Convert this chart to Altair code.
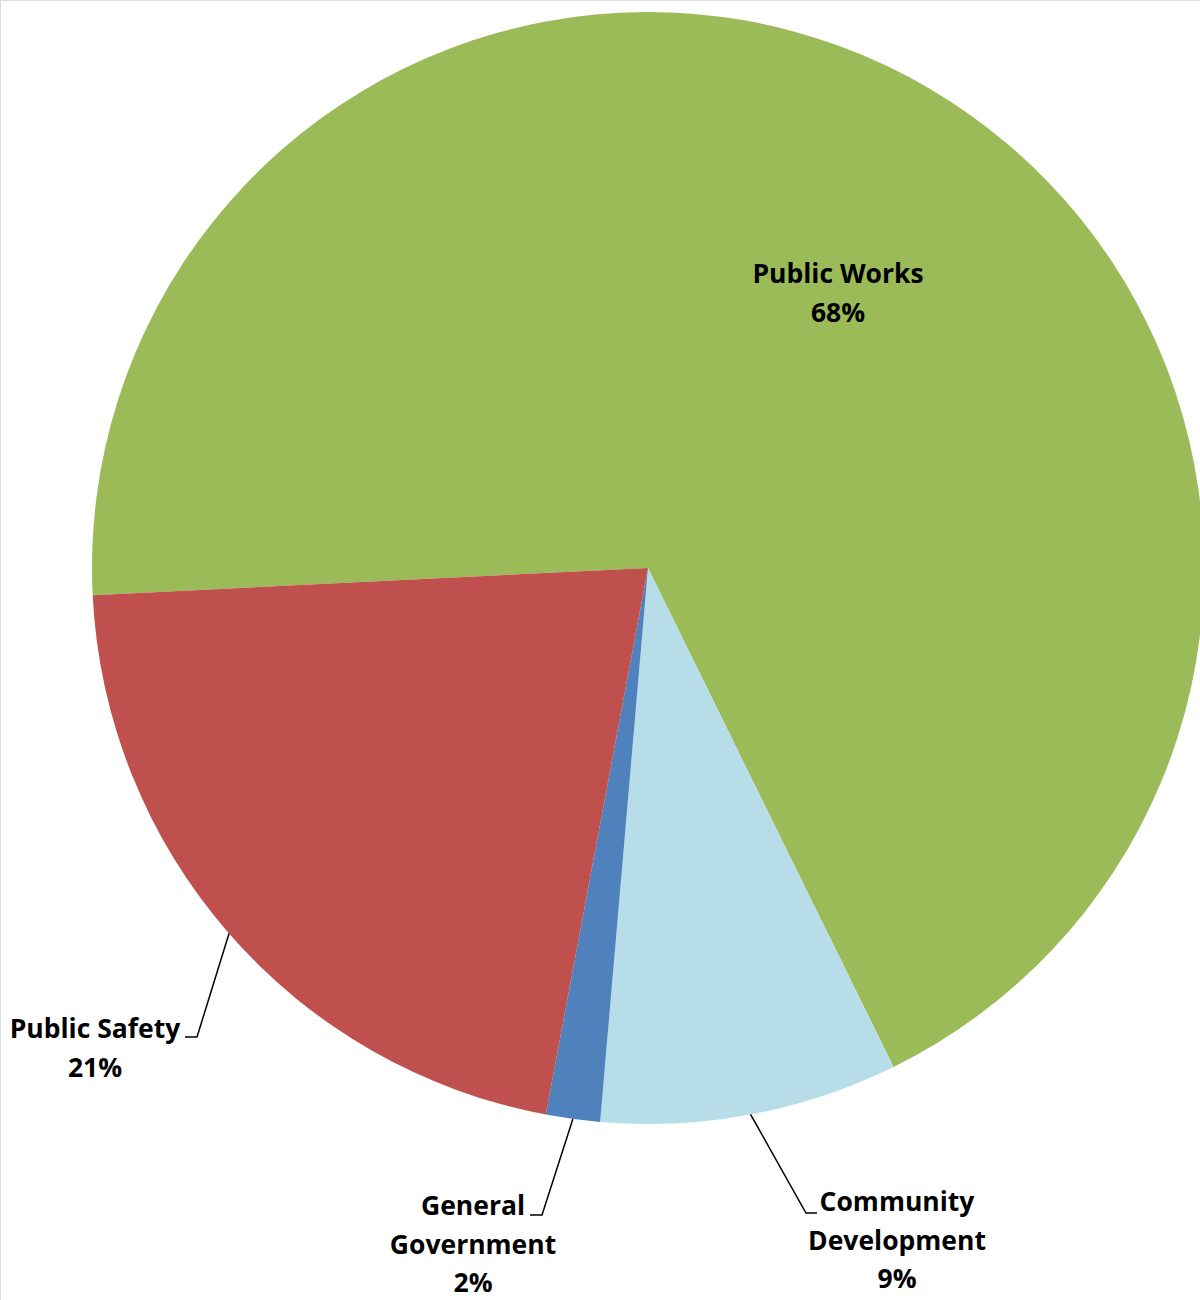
import math
import altair as alt
import pandas as pd

# ---- data ----
categories = ["Public Works", "Community Development", "General Government", "Public Safety"]
shares = [68.5, 8.65, 1.57, 21.28]
colors = ["#9BBB59", "#B7DEE8", "#4F81BD", "#C0504D"]
label_lines = [["Public Works"], ["Community", "Development"], ["General", "Government"], ["Public Safety"]]

# ---- layout (pixels) ----
CX, CY, R = 648, 568, 556
START = math.radians(267.2)
FONT = "Open Sans"
FS = 26.5
LINE_H = 38.5
# text anchor: (center x, first line y); leader: (elbow x, elbow y, stub end x)
text_pos = {
    "Public Works": (838, 275),
    "Community Development": (897, 1203),
    "General Government": (473, 1207),
    "Public Safety": (95, 1030),
}
leader = {
    "Community Development": (806, 1213, 817),
    "General Government": (542, 1215, 530),
    "Public Safety": (197, 1037, 185),
}

total = sum(shares)
pie = pd.DataFrame({"cat": categories, "value": shares, "idx": range(len(categories))})

# text rows
rows = []
for cat, v, lines in zip(categories, shares, label_lines):
    tx, ty = text_pos[cat]
    all_lines = lines + [f"{round(v / total * 100)}%"]
    for i, t in enumerate(all_lines):
        rows.append({"cat": cat, "t": t, "x": tx, "y": ty + i * LINE_H})
text_df = pd.DataFrame(rows)

# leader lines: start at slice mid-angle on the rim
pts = []
cum = 0.0
for cat, v in zip(categories, shares):
    mid = START + 2 * math.pi * (cum + v / 2) / total
    cum += v
    if cat in leader:
        ex, ey, sx = leader[cat]
        sx0 = CX + R * math.sin(mid)
        sy0 = CY - R * math.cos(mid)
        for k, (px, py) in enumerate([(sx0, sy0), (ex, ey), (sx, ey)]):
            pts.append({"cat": cat, "k": k, "x": px, "y": py})
lead_df = pd.DataFrame(pts)

arcs = alt.Chart(pie).mark_arc(outerRadius=R).encode(
    theta=alt.Theta("value:Q", stack=True, scale=alt.Scale(range=[START, START + 2 * math.pi])),
    order=alt.Order("idx:Q"),
    color=alt.Color("cat:N", scale=alt.Scale(domain=categories, range=colors), legend=None),
    x=alt.value(CX),
    y=alt.value(CY),
)

lines = alt.Chart(lead_df).mark_line(color="black", strokeWidth=1.5).encode(
    x=alt.X("x:Q", scale=None, axis=None),
    y=alt.Y("y:Q", scale=None, axis=None),
    detail="cat:N",
    order="k:Q",
)

texts = alt.Chart(text_df).mark_text(
    font=FONT, fontSize=FS, fontWeight="bold", color="black", align="center", baseline="middle"
).encode(
    x=alt.X("x:Q", scale=None, axis=None),
    y=alt.Y("y:Q", scale=None, axis=None),
    text="t:N",
)

chart = alt.layer(arcs, lines, texts).properties(
    width=1200, height=1300, autosize=alt.AutoSizeParams(type="none"), padding=0
).configure_view(stroke=None).configure(background="white")

chart.save("out.html", embed_options={"renderer": "svg", "actions": False})
